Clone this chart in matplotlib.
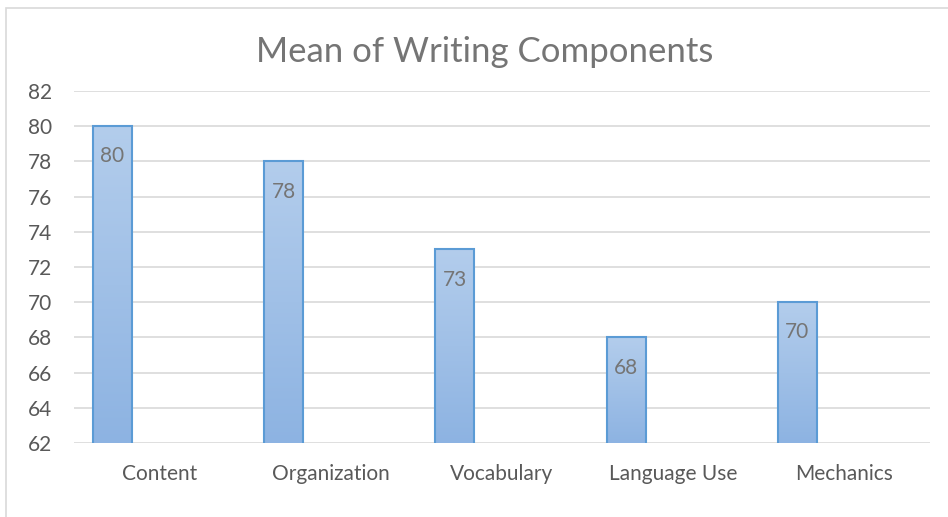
import numpy as np
import matplotlib.pyplot as plt
from matplotlib.patches import Rectangle
from matplotlib.colors import LinearSegmentedColormap

categories = ['Content', 'Organization', 'Vocabulary', 'Language Use', 'Mechanics']
means = [80, 78, 73, 68, 70]
y_ticks = [62, 64, 66, 68, 70, 72, 74, 76, 78, 80, 82]

plt.rcParams['font.family'] = ['Lato', 'DejaVu Sans']

fig = plt.figure(figsize=(9.48, 5.17), dpi=100)
fig.patches.append(Rectangle((6 / 948, -0.05), 1.2, (517 - 8) / 517 + 0.05,
                             transform=fig.transFigure, fill=False,
                             edgecolor='#d9d9d9', linewidth=1.2))
ax = fig.add_axes([74 / 948, 74 / 517, 856 / 948, 352 / 517])

x = np.arange(len(categories))
bars = ax.bar(x - 0.275, means, width=0.228,
              facecolor='none', edgecolor='#5b9bd5', linewidth=1.5, zorder=3)

# vertical gradient inside each bar
grad = np.linspace(0, 1, 256).reshape(-1, 1)
cmap = LinearSegmentedColormap.from_list('bar', ['#8db3e2', '#b3cdec'])
for b in bars:
    x0, w, h = b.get_x(), b.get_width(), b.get_height()
    im = ax.imshow(grad, extent=(x0, x0 + w, 62, h), origin='lower',
                   cmap=cmap, aspect='auto', zorder=2)
    im.set_clip_path(b)
    ax.text(x0 + w / 2, h - 1.15, f'{h:g}', ha='center', va='top',
            fontsize=15, color='#757575', zorder=4)

ax.set_xlim(-0.5, len(categories) - 0.5)
ax.set_ylim(62, 82)
ax.set_yticks(y_ticks)
ax.set_xticks(x)
ax.set_xticklabels(categories)
ax.tick_params(axis='both', length=0, labelsize=15, colors='#595959')
ax.tick_params(axis='x', pad=15)
ax.tick_params(axis='y', pad=16)
ax.grid(axis='y', color='#d9d9d9', linewidth=1.2, zorder=0)
for s in ax.spines.values():
    s.set_visible(False)

fig.text(485 / 948, 1 - 52 / 517, 'Mean of Writing Components',
         ha='center', va='center', fontsize=25, color='#757575')

fig.savefig('out.png', dpi=100)
